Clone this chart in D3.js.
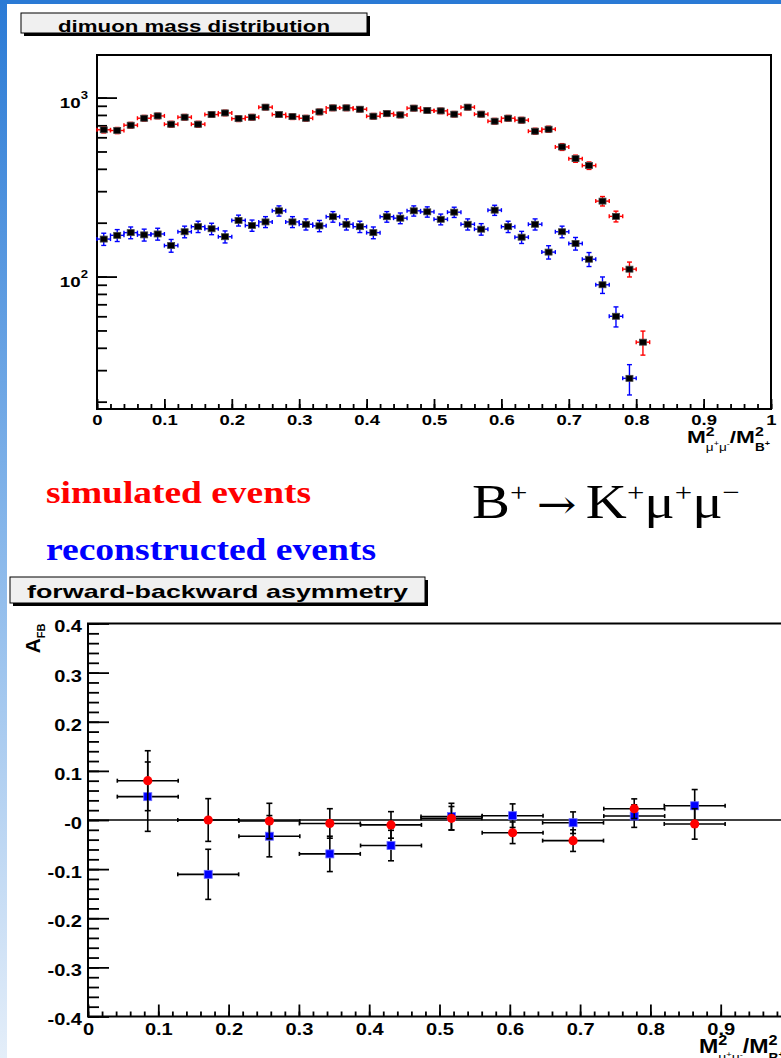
<!DOCTYPE html>
<html>
<head>
<meta charset="utf-8">
<script src="https://cdn.jsdelivr.net/npm/d3@7"></script>
<style>
  html, body { margin: 0; padding: 0; background: #fff; }
  svg { display: block; }
</style>
</head>
<body>
<svg id="chart" width="781" height="1058"></svg>
<script>
// ---- dimuon mass distribution (bin centres, counts, errors)
const massBins = [0.01, 0.03, 0.05, 0.07, 0.09, 0.11, 0.13, 0.15, 0.17, 0.19,
                  0.21, 0.23, 0.25, 0.27, 0.29, 0.31, 0.33, 0.35, 0.37, 0.39,
                  0.41, 0.43, 0.45, 0.47, 0.49, 0.51, 0.53, 0.55, 0.57, 0.59,
                  0.61, 0.63, 0.65, 0.67, 0.69, 0.71, 0.73, 0.75, 0.77, 0.79, 0.81];
const massHalfBin = 0.01;
const simCounts = [661, 655, 701, 767, 790, 710, 777, 710, 804, 821,
                   763, 777, 884, 804, 783, 767, 832, 876, 876, 861,
                   787, 814, 800, 873, 848, 843, 808, 884, 808, 738,
                   767, 748, 649, 666, 530, 456, 417, 264, 217, 110, 43];
const simErrors = [26, 26, 26, 28, 28, 27, 28, 27, 28, 29,
                   28, 28, 30, 28, 28, 28, 29, 30, 30, 29,
                   28, 29, 28, 30, 29, 29, 28, 30, 28, 27,
                   28, 27, 25, 26, 23, 21, 20, 16, 15, 10.5, 6.6];
const recoCounts = [162, 170, 176, 171, 173, 149, 178, 190, 185, 167,
                    206, 193, 202, 233, 202, 196, 192, 216, 196, 190,
                    176, 216, 212, 233, 230, 209, 229, 196, 184, 235,
                    190, 166, 196, 137, 178, 153, 125, 90, 60, 27];
const recoErrors = [12.7, 13, 13.3, 13.1, 13.2, 12.2, 13.3, 13.8, 13.6, 12.9,
                    14.4, 13.9, 14.2, 15.3, 14.2, 14, 13.9, 14.7, 14, 13.8,
                    13.3, 14.7, 14.6, 15.3, 15.2, 14.5, 15.1, 14, 13.6, 15.3,
                    13.8, 12.9, 14, 11.7, 13.3, 12.4, 11.2, 9.5, 7.7, 5.2];
const massXTicks = [0, 0.1, 0.2, 0.3, 0.4, 0.5, 0.6, 0.7, 0.8, 0.9, 1];
const massXLabels = ['0', '0.1', '0.2', '0.3', '0.4', '0.5', '0.6', '0.7', '0.8', '0.9', '1'];
const massYTicks = [100, 1000];
const massYPowers = ['2', '3'];

// ---- forward-backward asymmetry
const afbBins = [0.085, 0.171, 0.258, 0.344, 0.431, 0.517, 0.604, 0.690, 0.777, 0.863];
const afbHalfBin = 0.0433;
const afbSim = [0.080, 0.000, -0.002, -0.007, -0.010, 0.0035, -0.026, -0.042, 0.023, -0.008];
const afbSimErr = [0.061, 0.0435, 0.036, 0.030, 0.027, 0.024, 0.022, 0.022, 0.020, 0.031];
const afbReco = [0.0475, -0.1106, -0.033, -0.069, -0.052, 0.007, 0.0088, -0.0055, 0.008, 0.029];
const afbRecoErr = [0.0706, 0.051, 0.042, 0.036, 0.031, 0.027, 0.024, 0.022, 0.023, 0.033];
const afbXTicks = [0, 0.1, 0.2, 0.3, 0.4, 0.5, 0.6, 0.7, 0.8, 0.9];
const afbXLabels = ['0', '0.1', '0.2', '0.3', '0.4', '0.5', '0.6', '0.7', '0.8', '0.9'];
const afbYTicks = [-0.4, -0.3, -0.2, -0.1, 0, 0.1, 0.2, 0.3, 0.4];
const afbYLabels = ['-0.4', '-0.3', '-0.2', '-0.1', '-0', '0.1', '0.2', '0.3', '0.4'];

const W = 781, H = 1058;
const sans = '"Liberation Sans", Arial, Helvetica, sans-serif';
const serif = '"Liberation Serif", "Times New Roman", serif';
const svg = d3.select('#chart');

/* slide background strips */
const grad = svg.append('defs').append('linearGradient')
    .attr('id', 'side').attr('x1', 0).attr('y1', 0).attr('x2', 0).attr('y2', 1);
grad.append('stop').attr('offset', '0%').attr('stop-color', '#2a7ad5');
grad.append('stop').attr('offset', '50%').attr('stop-color', '#86b6ea');
grad.append('stop').attr('offset', '100%').attr('stop-color', '#e4eef9');
svg.append('rect').attr('x', 0).attr('y', 0).attr('width', 7).attr('height', H).attr('fill', 'url(#side)');
svg.append('rect').attr('x', 0).attr('y', 0).attr('width', W).attr('height', 4).attr('fill', '#2a7ad5');

function titleBox(x, y, w, h, label, tx, base, size, len) {
    svg.append('rect').attr('x', x + 3).attr('y', y + 3).attr('width', w).attr('height', h).attr('fill', '#000');
    svg.append('rect').attr('x', x).attr('y', y).attr('width', w).attr('height', h)
        .attr('fill', '#f0f0f0').attr('stroke', '#000').attr('stroke-width', 1);
    svg.append('text').attr('x', tx).attr('y', base)
        .attr('font-family', sans).attr('font-weight', 'bold').attr('font-size', size)
        .attr('textLength', len).attr('lengthAdjust', 'spacingAndGlyphs')
        .text(label);
}

function axisGroup(axis, tx, ty) {
    const g = svg.append('g').attr('transform', `translate(${tx},${ty})`).call(axis);
    g.select('.domain').remove();
    g.selectAll('.tick line').attr('stroke', '#000').attr('stroke-width', 1.8);
    return g;
}

function boldLabels(g, size, sx) {
    g.selectAll('.tick text')
        .attr('font-family', sans).attr('font-weight', 'bold').attr('font-size', size)
        .attr('fill', '#000').attr('transform', `scale(${sx},1)`);
}

// M^2_{mu+mu-}/M^2_{B+}
function massTitle(xLeft, xRight, base, fs) {
    const g = svg.append('g').attr('font-family', sans).attr('font-weight', 'bold').attr('fill', '#000');
    const put = (str, x, y, size) => g.append('text').attr('x', x).attr('y', y).attr('font-size', size).text(str);
    let cx = put('M', 0, 0, fs).node().getComputedTextLength();
    const w1 = put('2', cx, -0.4 * fs, 0.7 * fs).node().getComputedTextLength();
    const s1 = put('\u03bc', cx, 0.45 * fs, 0.6 * fs).attr('font-weight', 'normal');
    s1.append('tspan').attr('font-size', 0.4 * fs).attr('dy', -0.25 * fs).text('+');
    s1.append('tspan').attr('dy', 0.25 * fs).text('\u03bc');
    s1.append('tspan').attr('font-size', 0.4 * fs).attr('dy', -0.25 * fs).text('-');
    cx += Math.max(w1, s1.node().getComputedTextLength());
    cx += put('/M', cx, 0, fs).node().getComputedTextLength();
    const w2 = put('2', cx, -0.4 * fs, 0.7 * fs).node().getComputedTextLength();
    const s2 = put('B', cx, 0.45 * fs, 0.6 * fs);
    s2.append('tspan').attr('font-size', 0.4 * fs).attr('dy', -0.25 * fs).text('+');
    cx += Math.max(w2, s2.node().getComputedTextLength());
    g.attr('transform', `translate(${xLeft},${base}) scale(${(xRight - xLeft) / cx},1)`);
}

/* =============== TOP: dimuon mass distribution =============== */
titleBox(21, 13, 346, 20, 'dimuon mass distribution', 58, 32, 16.5, 272);

const m1 = { left: 97, right: 771, top: 55, bottom: 409 };
const x1 = d3.scaleLinear().domain([0, 1]).range([m1.left, m1.right]);
const y1 = d3.scaleLog().domain([18.2, 1730]).range([m1.bottom, m1.top]);

axisGroup(d3.axisBottom(x1).tickValues(x1.ticks(50)).tickSize(-5).tickFormat(''), 0, m1.bottom);
const gx1 = axisGroup(d3.axisBottom(x1).tickValues(massXTicks).tickSize(-10).tickPadding(6.5)
    .tickFormat(d => massXLabels[massXTicks.indexOf(d)]), 0, m1.bottom);
boldLabels(gx1, 14, 1.32);

axisGroup(d3.axisLeft(y1).tickValues(y1.ticks()).tickSize(-10).tickFormat(''), m1.left, 0);
axisGroup(d3.axisLeft(y1).tickValues(massYTicks).tickSize(-20).tickFormat(''), m1.left, 0);
massYTicks.forEach((v, i) => {
    const t = svg.append('text')
        .attr('transform', `translate(88,${y1(v) + 10.5}) scale(1.25,1)`)
        .attr('text-anchor', 'end').attr('font-family', sans).attr('font-weight', 'bold')
        .attr('font-size', 15).text('10');
    t.append('tspan').attr('dy', -9.5).attr('font-size', 10.5).text(massYPowers[i]);
});

svg.append('rect').attr('x', m1.left).attr('y', m1.top)
    .attr('width', m1.right - m1.left).attr('height', m1.bottom - m1.top)
    .attr('fill', 'none').attr('stroke', '#000').attr('stroke-width', 2);

function histErrors(counts, errs, color) {
    const pts = counts.map((v, i) => ({ x: massBins[i], v, e: errs[i] }));
    const g = svg.append('g').attr('stroke', color).attr('stroke-width', 1.4);
    g.selectAll('.h').data(pts).join('line')
        .attr('x1', d => x1(d.x - massHalfBin)).attr('x2', d => x1(d.x + massHalfBin))
        .attr('y1', d => y1(d.v)).attr('y2', d => y1(d.v));
    [-1, 1].forEach(s => {
        g.selectAll('.hc' + s).data(pts).join('line')
            .attr('x1', d => x1(d.x + s * massHalfBin)).attr('x2', d => x1(d.x + s * massHalfBin))
            .attr('y1', d => y1(d.v) - 2).attr('y2', d => y1(d.v) + 2);
        g.selectAll('.vc' + s).data(pts).join('line')
            .attr('x1', d => x1(d.x) - 2.5).attr('x2', d => x1(d.x) + 2.5)
            .attr('y1', d => y1(d.v + s * d.e)).attr('y2', d => y1(d.v + s * d.e));
    });
    g.selectAll('.v').data(pts).join('line')
        .attr('x1', d => x1(d.x)).attr('x2', d => x1(d.x))
        .attr('y1', d => y1(d.v - d.e)).attr('y2', d => y1(d.v + d.e));
    svg.append('g').selectAll('rect').data(pts).join('rect')
        .attr('x', d => x1(d.x) - 3.5).attr('y', d => y1(d.v) - 3)
        .attr('width', 7).attr('height', 6)
        .attr('fill', '#000').attr('stroke', '#444').attr('stroke-width', 0.8);
}
histErrors(simCounts, simErrors, '#ff0000');
histErrors(recoCounts, recoErrors, '#0000ff');

massTitle(687, 770, 443, 17);

/* =============== middle texts =============== */
svg.append('text').attr('x', 46).attr('y', 503)
    .attr('font-family', serif).attr('font-weight', 'bold').attr('font-size', 31).attr('fill', '#ff0000')
    .attr('textLength', 265).attr('lengthAdjust', 'spacingAndGlyphs')
    .text('simulated events');
svg.append('text').attr('x', 46).attr('y', 560)
    .attr('font-family', serif).attr('font-weight', 'bold').attr('font-size', 31).attr('fill', '#0000ff')
    .attr('textLength', 330).attr('lengthAdjust', 'spacingAndGlyphs')
    .text('reconstructed events');

const decay = svg.append('text').attr('x', 472).attr('y', 518)
    .attr('font-family', serif).attr('font-size', 48).attr('fill', '#000')
    .attr('textLength', 268).attr('lengthAdjust', 'spacingAndGlyphs');
decay.append('tspan').text('B');
decay.append('tspan').attr('dy', -17).attr('font-size', 26).text('+');
decay.append('tspan').attr('dy', 17).attr('font-family', '"DejaVu Serif", serif').attr('font-size', 40)
    .text('\u2009\u2192\u2009');
decay.append('tspan').text('K');
decay.append('tspan').attr('dy', -17).attr('font-size', 26).text('+');
decay.append('tspan').attr('dy', 17).text('\u03bc');
decay.append('tspan').attr('dy', -17).attr('font-size', 26).text('+');
decay.append('tspan').attr('dy', 17).text('\u03bc');
decay.append('tspan').attr('dy', -17).attr('font-size', 26).text('\u2212');

/* =============== BOTTOM: forward-backward asymmetry =============== */
titleBox(10, 577, 415, 26, 'forward-backward asymmetry', 27, 598, 18.5, 381);

const m2 = { left: 88, top: 623.5, bottom: 1016.5 };
const x2 = d3.scaleLinear().domain([0, 1]).range([m2.left, 791]);
const y2 = d3.scaleLinear().domain([-0.4, 0.4]).range([m2.bottom, m2.top]);

axisGroup(d3.axisBottom(x2).tickValues(x2.ticks(50)).tickSize(-5).tickFormat(''), 0, m2.bottom);
const gx2 = axisGroup(d3.axisBottom(x2).tickValues(afbXTicks).tickSize(-12).tickPadding(6)
    .tickFormat(d => afbXLabels[afbXTicks.indexOf(d)]), 0, m2.bottom);
boldLabels(gx2, 17, 1.18);

axisGroup(d3.axisLeft(y2).tickValues(y2.ticks(40)).tickSize(-11).tickFormat(''), m2.left, 0);
const gy2 = axisGroup(d3.axisLeft(y2).tickValues(afbYTicks).tickSize(-21).tickPadding(6)
    .tickFormat(d => afbYLabels[afbYTicks.indexOf(d)]), m2.left, 0);
boldLabels(gy2, 17, 1.18);
gy2.selectAll('.tick text').attr('x', -6 / 1.18).attr('y', 3);

svg.append('rect').attr('x', m2.left).attr('y', m2.top)
    .attr('width', 760).attr('height', m2.bottom - m2.top)
    .attr('fill', 'none').attr('stroke', '#000').attr('stroke-width', 2);
svg.append('line').attr('x1', m2.left).attr('x2', W).attr('y1', y2(0)).attr('y2', y2(0))
    .attr('stroke', '#000').attr('stroke-width', 1.6);

const afbTitle = svg.append('text')
    .attr('transform', `translate(40,${m2.top}) rotate(-90)`)
    .attr('text-anchor', 'end').attr('font-family', sans).attr('font-weight', 'bold')
    .attr('font-size', 21).text('A');
afbTitle.append('tspan').attr('dy', 5).attr('font-size', 11).text('FB');

function afbSeries(vals, errs, marker) {
    const pts = vals.map((v, i) => ({ x: afbBins[i], v, e: errs[i] }));
    const g = svg.append('g').attr('stroke', '#000').attr('stroke-width', 1.6);
    g.selectAll('.h').data(pts).join('line')
        .attr('x1', d => x2(d.x - afbHalfBin)).attr('x2', d => x2(d.x + afbHalfBin))
        .attr('y1', d => y2(d.v)).attr('y2', d => y2(d.v));
    g.selectAll('.v').data(pts).join('line')
        .attr('x1', d => x2(d.x)).attr('x2', d => x2(d.x))
        .attr('y1', d => y2(d.v - d.e)).attr('y2', d => y2(d.v + d.e));
    [-1, 1].forEach(s => {
        g.selectAll('.hc' + s).data(pts).join('line')
            .attr('x1', d => x2(d.x + s * afbHalfBin)).attr('x2', d => x2(d.x + s * afbHalfBin))
            .attr('y1', d => y2(d.v) - 2).attr('y2', d => y2(d.v) + 2);
        g.selectAll('.vc' + s).data(pts).join('line')
            .attr('x1', d => x2(d.x) - 3).attr('x2', d => x2(d.x) + 3)
            .attr('y1', d => y2(d.v + s * d.e)).attr('y2', d => y2(d.v + s * d.e));
    });
    const mk = svg.append('g');
    if (marker === 'square') {
        mk.selectAll('rect').data(pts).join('rect')
            .attr('x', d => x2(d.x) - 4).attr('y', d => y2(d.v) - 4)
            .attr('width', 8).attr('height', 8)
            .attr('fill', '#0000ff').attr('stroke', '#6a6aff').attr('stroke-width', 0.8);
    } else {
        mk.selectAll('circle').data(pts).join('circle')
            .attr('cx', d => x2(d.x)).attr('cy', d => y2(d.v)).attr('r', 4.6)
            .attr('fill', '#ff0000');
    }
}
afbSeries(afbReco, afbRecoErr, 'square');
afbSeries(afbSim, afbSimErr, 'circle');

massTitle(699, 784, 1053, 20);
</script>
</body>
</html>
